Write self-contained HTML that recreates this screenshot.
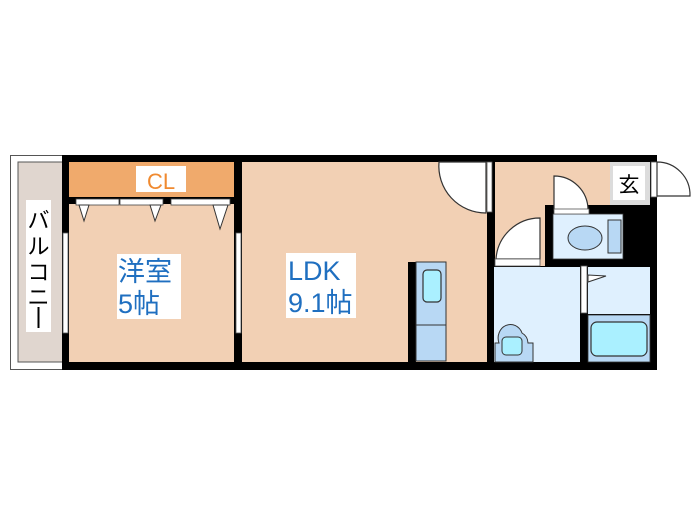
<!DOCTYPE html>
<html><head><meta charset="utf-8"><style>
html,body{margin:0;padding:0;background:#fff;}
svg{display:block}
text{font-family:"Liberation Sans","Noto Sans CJK JP",sans-serif;}
</style></head><body>
<svg width="700" height="525" viewBox="0 0 700 525" xmlns="http://www.w3.org/2000/svg">
<rect x="10.5" y="155.5" width="53" height="214" fill="#fff" stroke="#555" stroke-width="1"/>
<rect x="18" y="162" width="45" height="200" fill="#e0d6cf" stroke="#555" stroke-width="1"/>
<rect x="26" y="200" width="25" height="132" fill="#fff"/>
<text x="38.5" y="228" font-size="22" text-anchor="middle">バ</text>
<text x="38.5" y="254" font-size="22" text-anchor="middle">ル</text>
<text x="38.5" y="280" font-size="22" text-anchor="middle">コ</text>
<text x="38.5" y="305" font-size="22" text-anchor="middle">ニ</text>
<rect x="37.5" y="307" width="2" height="21" fill="#000"/>
<rect x="62" y="155" width="595" height="215" fill="#000"/>
<rect x="69" y="162" width="165" height="35" fill="#f0aa6c"/>
<rect x="69" y="204" width="165" height="158" fill="#f2d0b4"/>
<rect x="242" y="162" width="245" height="200" fill="#f2d0b4"/>
<rect x="495" y="162" width="115" height="43" fill="#f2d0b4"/>
<rect x="495" y="205" width="50" height="61" fill="#f2d0b4"/>
<rect x="610" y="162" width="40" height="43" fill="#dcdcdc"/>
<rect x="613" y="166" width="32" height="34" fill="#fff"/>
<text x="629" y="192" font-size="21" text-anchor="middle">玄</text>
<rect x="136" y="166" width="50" height="26" fill="#fff"/>
<text x="161" y="189" font-size="22" fill="#f08a30" text-anchor="middle">CL</text>
<rect x="76" y="199" width="43" height="6" fill="#fff" stroke="#444" stroke-width="0.8"/>
<rect x="120" y="199" width="43" height="6" fill="#fff" stroke="#444" stroke-width="0.8"/>
<rect x="171" y="199" width="59" height="6" fill="#fff" stroke="#444" stroke-width="0.8"/>
<polygon points="79,205 89,205 84,221" fill="#fff" stroke="#333"/>
<polygon points="150,205 161,205 155,221" fill="#fff" stroke="#333"/>
<polygon points="213,205 228,205 220,229" fill="#fff" stroke="#333"/>
<rect x="63" y="233" width="5" height="100" fill="#fff" stroke="#555" stroke-width="0.8"/>
<rect x="236" y="233" width="5" height="100" fill="#fff" stroke="#555" stroke-width="0.8"/>
<rect x="117" y="254" width="64" height="65" fill="#fff"/>
<text x="118" y="281" font-size="27" fill="#1f6fc0">洋室</text>
<text x="118" y="313" font-size="27" fill="#1f6fc0">5帖</text>
<rect x="286" y="253" width="70" height="65" fill="#fff"/>
<text x="288" y="280" font-size="27" fill="#1f6fc0">LDK</text>
<text x="288" y="312" font-size="27" fill="#1f6fc0">9.1帖</text>
<rect x="487" y="162" width="5" height="50" fill="#fff" stroke="#555" stroke-width="0.8"/>
<path d="M486,162 L439,162 A47,47 0 0 0 486,213 Z" fill="#fff" stroke="#333" stroke-width="1.2"/>
<rect x="408" y="262" width="8" height="100" fill="#000"/>
<rect x="416" y="262" width="30" height="99" fill="#b8d8f4" stroke="#333" stroke-width="1"/>
<line x1="416" y1="325" x2="446" y2="325" stroke="#333"/>
<rect x="423" y="270" width="18" height="32" rx="4" fill="#aaf0ff" stroke="#333" stroke-width="1.2"/>
<rect x="553" y="214" width="70" height="45" fill="#dff0fe" stroke="#333" stroke-width="0.8"/>
<ellipse cx="585" cy="238" rx="17" ry="12" fill="#b8d8f4" stroke="#333"/>
<rect x="608" y="220" width="13" height="33" fill="#b8d8f4" stroke="#333"/>
<path d="M554,210 L554,176 A34,34 0 0 1 588,210 Z" fill="#fff" stroke="#333" stroke-width="1.2"/>
<rect x="554" y="209" width="35" height="5" fill="#fff" stroke="#555" stroke-width="0.8"/>
<rect x="494" y="267" width="86" height="95" fill="#dff0fe"/>
<path d="M540,259 L540,218 A44,44 0 0 0 496,259 Z" fill="#fff" stroke="#333" stroke-width="1.2"/>
<rect x="495" y="259" width="45" height="7" fill="#fff" stroke="#555" stroke-width="0.8"/>
<path d="M495,362 L495,343 L499,343 A11,12 0 0 1 522,333 A11,12 0 0 1 528,343 L533,343 L533,362 Z" fill="#b8d8f4" stroke="#333"/>
<rect x="502" y="337" width="20" height="18" rx="4" fill="#aaf0ff" stroke="#333"/>
<rect x="581" y="266" width="6" height="47" fill="#fff" stroke="#555" stroke-width="0.8"/>
<rect x="588" y="267" width="62" height="47" fill="#dff0fe"/>
<polygon points="588,275 606,276 588,282" fill="#fff" stroke="#333"/>
<rect x="588" y="315" width="62" height="47" fill="#b8d8f4" stroke="#333" stroke-width="0.8"/>
<rect x="591" y="322" width="56" height="34" rx="6" fill="#aaf0ff" stroke="#333" stroke-width="1.2"/>
<rect x="651" y="162" width="6" height="35" fill="#fff" stroke="#555" stroke-width="0.8"/>
<path d="M657,162 A33,33 0 0 1 690,196 L657,196 Z" fill="#fff" stroke="#333" stroke-width="1.2"/>
</svg>
</body></html>
